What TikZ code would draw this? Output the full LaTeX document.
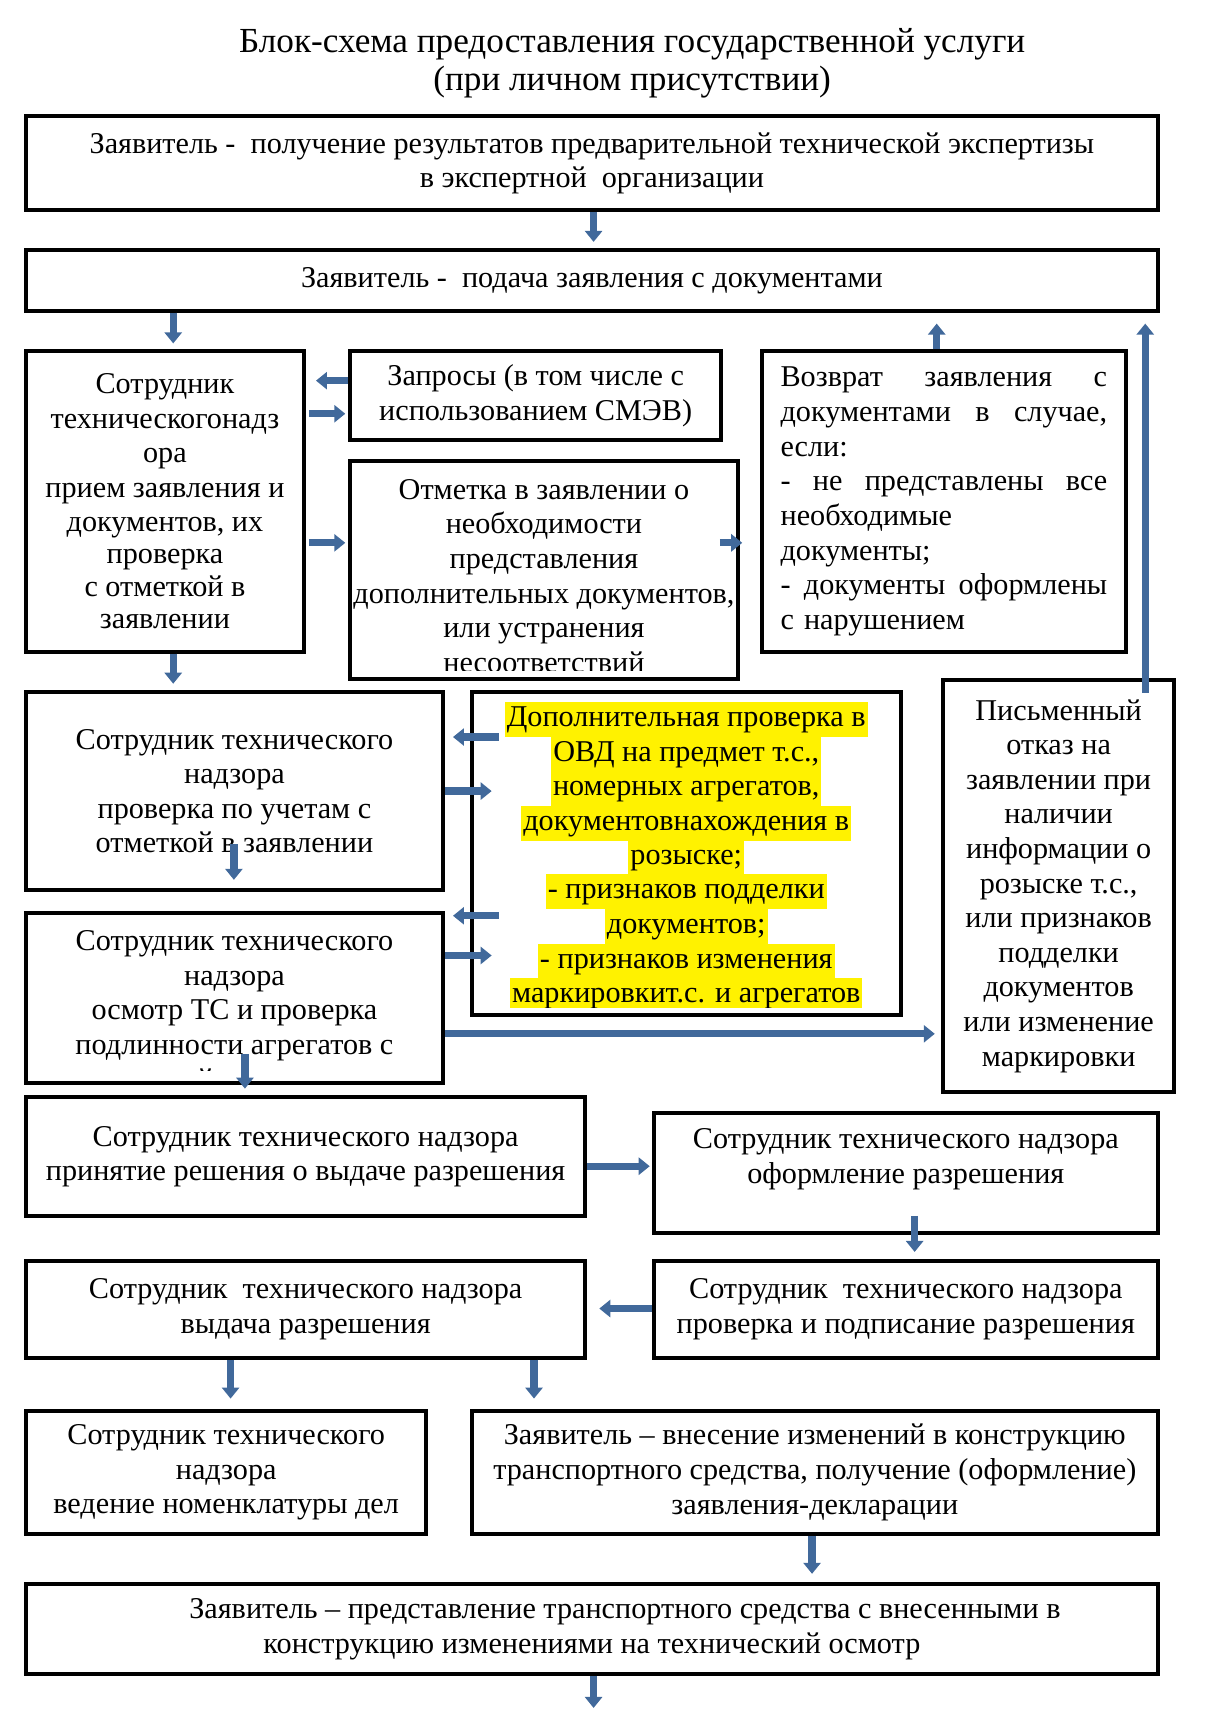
\documentclass[tikz,border=0pt]{standalone}
\usepackage{fontspec}
\setmainfont{Liberation Serif}
\usetikzlibrary{arrows.meta}
\definecolor{arrowblue}{RGB}{65,105,155}
\newlength\gu
\setlength\gu{0.5516pt}
\newcommand\bodyfont{\fontsize{15.1}{17.3}\selectfont}
\newcommand\titlefont{\fontsize{17.6}{18.8}\selectfont}

\begin{document}
\begin{tikzpicture}[x=0.5516pt, y=-0.5516pt,
  box/.style={draw, line width=2pt, inner sep=0pt, align=center, font=\bodyfont},
  boxtext/.style={inner sep=0pt, align=center, font=\bodyfont},
  hl/.style={fill=yellow, inner xsep=1pt, inner ysep=0pt, minimum height=17.5pt,
    text height=11.5pt, text depth=4pt, font=\bodyfont},
  arr/.style={draw=arrowblue, line width=3.6pt, -{Triangle[length=5.5pt, width=8.5pt]}}]
\useasboundingbox (0,0) rectangle (1095,1568);

\node[font=\titlefont, align=center] (Title) at (573,57.5)
  {Блок-схема предоставления государственной услуги\\(при личном присутствии)};

% applicant rows
\node[box, minimum width=1026*\gu, minimum height=85*\gu] (Top Box) at (536.5,148)
  {Заявитель -\ \ получение результатов предварительной технической экспертизы\\
   в экспертной\ \ организации};
\node[box, minimum width=1026*\gu, minimum height=55*\gu] (Submit Box) at (536.5,254)
  {Заявитель -\ \ подача заявления с документами};

\node[box, minimum width=252*\gu, minimum height=272*\gu] (Intake Box) at (149.5,454.5)
  {Сотрудник\\ техническогонадз\\ ора\\ прием заявления и\\[-0.5pt] документов, их\\[-1pt] проверка\\[-1pt]
   с отметкой в\\[-1pt] заявлении};
\node[box, minimum width=336*\gu, minimum height=80*\gu] (Queries Box) at (485.5,358.5)
  {Запросы (в том числе с\\ использованием СМЭВ)};

\begin{scope}
\clip (316,416) rectangle (670,608);
\node[boxtext] (Mark Text) at (493,522)
  {Отметка в заявлении о\\ необходимости\\ представления\\ дополнительных документов,\\
   или устранения\\ несоответствий};
\end{scope}
\node[box, minimum width=351*\gu, minimum height=198*\gu] (Mark Box) at (493,516.5) {};

\node[box, minimum width=330*\gu, minimum height=272*\gu, text width=296*\gu, align=left]
  (Return Box) at (855.5,454.5)
  {Возврат\hfill заявления\hfill с\\ документами\hfill в\hfill случае,\\ если:\\
   -\hfill не\hfill представлены\hfill все\\ необходимые\\ документы;\\
   -\hfill документы\hfill оформлены\\ с нарушением};

% checks
\node[box, minimum width=378*\gu, minimum height=179*\gu] (Records Box) at (212.5,717)
  {Сотрудник технического\\ надзора\\ проверка по учетам с\\ отметкой в заявлении};

\begin{scope}
\clip (426,626) rectangle (818,913);
\node[hl] (Extra Line 1) at (622,652) {Дополнительная проверка в};
\node[hl] (Extra Line 2) at (622,683) {ОВД на предмет т.с.,};
\node[hl] (Extra Line 3) at (622,714.5) {номерных агрегатов,};
\node[hl] (Extra Line 4) at (622,746) {документовнахождения в};
\node[hl] (Extra Line 5) at (622,777) {розыске;};
\node[hl] (Extra Line 6) at (622,808) {- признаков подделки};
\node[hl] (Extra Line 7) at (622,839.5) {документов;};
\node[hl] (Extra Line 8) at (622,871) {- признаков изменения};
\node[hl] (Extra Line 9) at (622,902) {маркировкит.с. и агрегатов};
\end{scope}
\node[box, minimum width=389*\gu, minimum height=292*\gu] (Extra Box) at (622,773.5) {};

\node[box, minimum width=210*\gu, minimum height=373*\gu] (Refusal Box) at (959.5,803)
  {Письменный\\ отказ на\\ заявлении при\\ наличии\\ информации о\\ розыске т.с.,\\
   или признаков\\ подделки\\ документов\\ или изменение\\ маркировки};

\begin{scope}
\clip (22,826) rectangle (403,970);
\node[boxtext] (Inspect Text) at (212.5,915.5)
  {Сотрудник технического\\ надзора\\ осмотр ТС и проверка\\ подлинности агрегатов с\\
   отметкой в заявлении};
\end{scope}
\node[box, minimum width=378*\gu, minimum height=154*\gu] (Inspect Box) at (212.5,904.5) {};

% permit
\node[box, minimum width=507*\gu, minimum height=108*\gu] (Decision Box) at (277,1048.5)
  {Сотрудник технического надзора\\ принятие решения о выдаче разрешения};
\node[box, minimum width=457*\gu, minimum height=109*\gu] (Draft Box) at (821,1063) {};
\node[boxtext] (Draft Text) at (821,1050.5)
  {Сотрудник технического надзора\\ оформление разрешения};
\node[box, minimum width=507*\gu, minimum height=88*\gu] (Issue Box) at (277,1186.5)
  {Сотрудник\ \ технического надзора\\ выдача разрешения};
\node[box, minimum width=457*\gu, minimum height=88*\gu] (Sign Box) at (821,1186.5)
  {Сотрудник\ \ технического надзора\\ проверка и подписание разрешения};
\node[box, minimum width=363*\gu, minimum height=112*\gu] (Files Box) at (205,1334.5)
  {Сотрудник технического\\ надзора\\ ведение номенклатуры дел};
\node[box, minimum width=622*\gu, minimum height=112*\gu] (Changes Box) at (738.5,1334.5)
  {Заявитель – внесение изменений в конструкцию\\
   транспортного средства, получение (оформление)\\ заявления-декларации};
\node[box, minimum width=1026*\gu, minimum height=82*\gu] (Present Box) at (536.5,1476.5)
  {\hspace*{33pt}Заявитель – представление транспортного средства с внесенными в\\
   конструкцию изменениями на технический осмотр};
\coordinate (End) at (538,1548);

\draw[arr, shorten >=3pt] (538,0 |- Top Box.south) -- (538,0 |- Submit Box.north);
\draw[arr, shorten >=3pt] (157,0 |- Submit Box.south) -- (157,0 |- Intake Box.north);
\draw[arr, shorten >=5pt] (Queries Box.west |- 0,345) -- (Intake Box.east |- 0,345);
\draw[arr, shorten <=1.5pt, shorten >=1.5pt] (Intake Box.east |- 0,375) -- (Queries Box.west |- 0,375);
\draw[arr, shorten <=1.5pt, shorten >=1.5pt] (Intake Box.east |- 0,492) -- (Mark Box.west |- 0,492);
\draw[arr, shorten <=88pt, shorten >=8.8pt] (Mark Box.center |- 0,492) -- (Return Box.west |- 0,492);
\draw[arr, shorten >=5.5pt] (849,0 |- Return Box.north) -- (849,0 |- Submit Box.south);
\draw[arr, shorten <=96.5pt, shorten >=5.5pt] (1038,0 |- Refusal Box.center) -- (1038,0 |- Submit Box.south);
\draw[arr, shorten >=3.3pt] (157,0 |- Intake Box.south) -- (157,0 |- Records Box.north);
\draw[arr, shorten <=93.8pt, shorten >=4pt] (Extra Box.center |- 0,668) -- (Records Box.east |- 0,668);
\draw[arr, shorten >=-11pt] (Records Box.east |- 0,717) -- (Extra Box.west |- 0,717);
\draw[arr, shorten <=26.5pt, shorten >=6pt] (212,0 |- Records Box.center) -- (212,0 |- Records Box.south);
\draw[arr, shorten <=93.8pt, shorten >=4pt] (Extra Box.center |- 0,830) -- (Inspect Box.east |- 0,830);
\draw[arr, shorten >=-11pt] (Inspect Box.east |- 0,866) -- (Extra Box.west |- 0,866);
\draw[arr, shorten >=3pt] (Inspect Box.east |- 0,937) -- (Refusal Box.west |- 0,937);
\draw[arr, shorten <=27.9pt, shorten >=3.3pt] (222,0 |- Inspect Box.center) -- (222,0 |- Decision Box.north);
\draw[arr, shorten >=1pt] (Decision Box.east |- 0,1057) -- (Draft Box.west |- 0,1057);
\draw[arr, shorten <=21.5pt, shorten >=3.3pt] (829,0 |- Draft Box.center) -- (829,0 |- Sign Box.north);
\draw[arr, shorten >=6pt] (Sign Box.west |- 0,1186) -- (Issue Box.east |- 0,1186);
\draw[arr, shorten >=5pt] (209,0 |- Issue Box.south) -- (209,0 |- Files Box.north);
\draw[arr, shorten >=5pt] (484,0 |- Issue Box.south) -- (484,0 |- Changes Box.north);
\draw[arr, shorten >=4pt] (736,0 |- Changes Box.south) -- (736,0 |- Present Box.north);
\draw[arr] (538,0 |- Present Box.south) -- (End);
\end{tikzpicture}
\end{document}
